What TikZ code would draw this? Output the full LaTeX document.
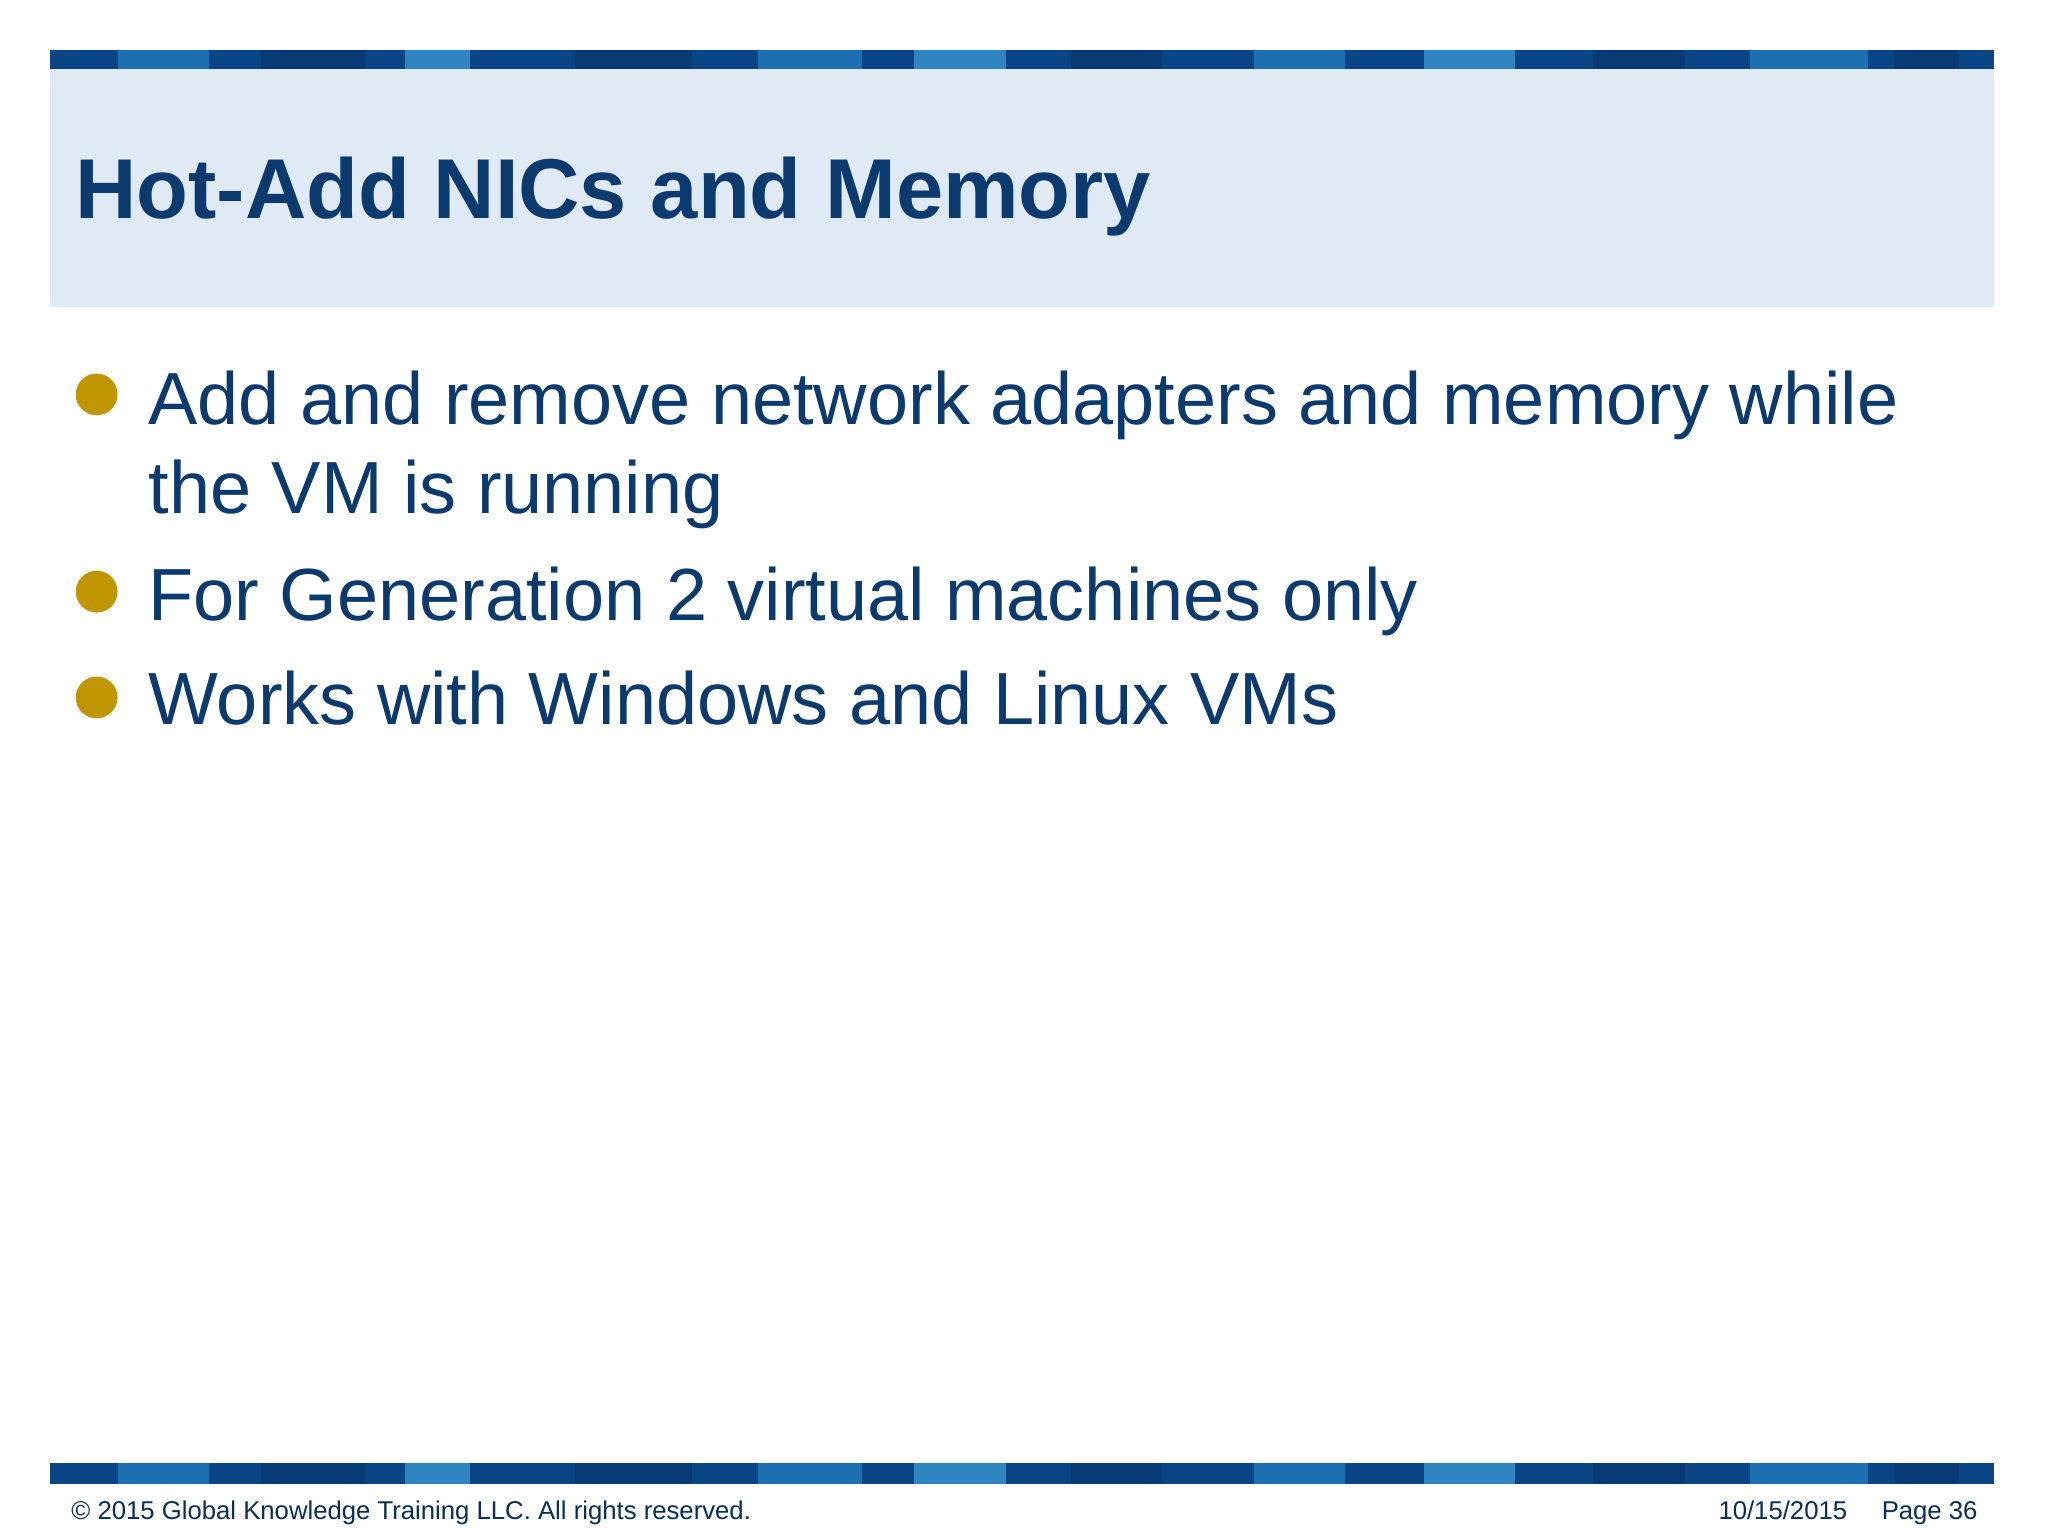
\documentclass[tikz,border=0pt]{standalone}
\usepackage{fontspec}
\setmainfont{Liberation Sans}
\definecolor{navy}{HTML}{0B3A6E}
\definecolor{hdr}{HTML}{DFEAF5}
\definecolor{gold}{HTML}{BF9600}
\definecolor{sA}{HTML}{0A4585}
\definecolor{sB}{HTML}{1C6FB0}
\definecolor{sC}{HTML}{083A75}
\definecolor{sD}{HTML}{2E85C2}
\tikzset{bul/.style={anchor=base west,text=navy,font=\fontsize{16.1}{19}\selectfont,inner sep=0pt},
 dot/.style={circle,fill=gold,minimum size=0.32cm,inner sep=0pt},
 foot/.style={anchor=base west,text=navy!80!black,font=\fontsize{5.6}{6.5}\selectfont,inner sep=0pt}}
\begin{document}
\begin{tikzpicture}[x=1cm,y=-1cm]
\useasboundingbox (0,0) rectangle (15.68,11.76);
\fill[white] (0,0) rectangle (15.68,11.76);
\fill[hdr] (0.38,0.53) rectangle (15.27,2.35);
\foreach \y/\h in {0.38/0.53,11.20/11.36}{
 \fill[sA] (0.38,\y) rectangle (15.27,\h);
 \foreach \a/\b/\c in {0.9/1.6/sB,2.0/2.8/sC,3.1/3.6/sD,4.4/5.3/sC,5.8/6.6/sB,7.0/7.7/sD,8.2/8.9/sC,9.6/10.3/sB,10.9/11.6/sD,12.2/12.9/sC,13.4/14.3/sB,14.5/15.0/sC}
  \fill[\c] (\a,\y) rectangle (\b,\h);
}
\node[anchor=base west,inner sep=0pt,text=navy,font=\fontsize{18.5}{22}\selectfont\bfseries] (title) at (0.57,1.67) {Hot-Add NICs and Memory};
\node[dot] (d1) at (0.74,3.02) {};
\node[bul] (t1) at (1.13,3.25) {Add and remove network adapters and memory while};
\node[bul] (t1b) at (1.13,3.93) {the VM is running};
\node[dot] (d2) at (0.74,4.53) {};
\node[bul] (t2) at (1.13,4.75) {For Generation 2 virtual machines only};
\node[dot] (d3) at (0.74,5.34) {};
\node[bul] (t3) at (1.13,5.55) {Works with Windows and Linux VMs};
\node[foot] (c) at (0.54,11.63) {© 2015 Global Knowledge Training LLC. All rights reserved.};
\node[foot] (dt) at (13.15,11.63) {10/15/2015};
\node[foot] (pg) at (14.40,11.63) {Page 36};
\end{tikzpicture}
\end{document}
